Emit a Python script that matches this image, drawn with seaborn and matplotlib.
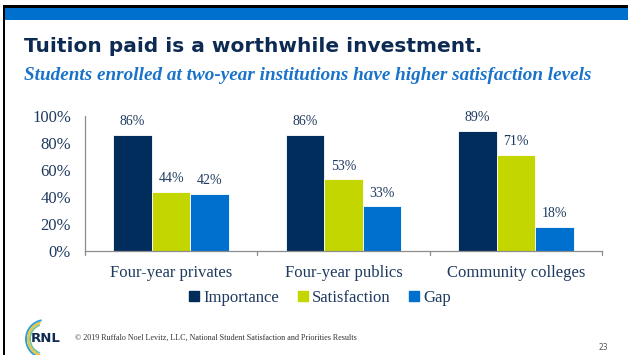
import matplotlib
matplotlib.use("Agg")
import matplotlib.pyplot as plt
from matplotlib.patches import Rectangle, Arc
import seaborn as sns
import pandas as pd

# Chart data
categories = ["Four-year privates", "Four-year publics", "Community colleges"]
series = ["Importance", "Satisfaction", "Gap"]
importance = [86, 86, 89]
satisfaction = [44, 53, 71]
gap = [42, 33, 18]
y_ticks = [0, 20, 40, 60, 80, 100]
y_tick_labels = ["0%", "20%", "40%", "60%", "80%", "100%"]

colors = {"Importance": "#002D5B", "Satisfaction": "#C4D600", "Gap": "#0070CE"}
navy_text = "#1F3A5F"

rows = []
for s, vals in zip(series, [importance, satisfaction, gap]):
    for c, v in zip(categories, vals):
        rows.append({"Category": c, "Series": s, "Value": v})
df = pd.DataFrame(rows)

sns.set_theme(style="white")
plt.rcParams["font.family"] = ["Liberation Serif", "DejaVu Serif"]

W, H = 628, 355
fig = plt.figure(figsize=(W / 100, H / 100), dpi=100)
fig.patch.set_facecolor("white")
renderer = fig.canvas.get_renderer()


def fit_text(t, width_px):
    """Rescale a text so that it spans the given width in pixels."""
    w = t.get_window_extent(renderer=renderer).width
    t.set_fontsize(t.get_fontsize() * width_px / w)


# Slide decorations in pixel coordinates
deco = fig.add_axes([0, 0, 1, 1])
deco.set_xlim(0, W)
deco.set_ylim(H, 0)
deco.axis("off")
deco.add_patch(Rectangle((3, 5), W, 2.5, color="black", lw=0))
deco.add_patch(Rectangle((5, 8), W, 11.5, color="#0070CE", lw=0))
deco.add_patch(Rectangle((3, 5), 2.2, H, color="black", lw=0))

title = deco.text(24, 52, "Tuition paid is a worthwhile investment.", fontsize=15,
                  fontweight="bold", family=["DejaVu Sans"], color="#0D2B52",
                  va="baseline", ha="left")
fit_text(title, 458)
subtitle = deco.text(24, 80, "Students enrolled at two-year institutions have higher satisfaction levels",
                     fontsize=12, fontweight="bold", fontstyle="italic", color="#1A73C8",
                     va="baseline", ha="left")
fit_text(subtitle, 566)

# Footer: logo, copyright, page number
for r, col, t1, t2 in [(19, "#2E9FD8", 100, 260), (17, "#F2C230", 105, 255), (15, "#7CC4A0", 110, 250)]:
    deco.add_patch(Arc((45, 339), 2 * r, 2 * r, theta1=t1, theta2=t2, color=col, lw=1.4))
deco.text(46, 339, "RNL", fontsize=9.5, fontweight="bold", family=["DejaVu Sans"],
          color="#0D2B52", ha="center", va="center")
copyright_txt = deco.text(75, 340,
                          "\u00a9 2019 Ruffalo Noel Levitz, LLC, National Student Satisfaction and Priorities Results",
                          fontsize=5.5, color="#333333", ha="left", va="baseline")
fit_text(copyright_txt, 284)
deco.text(603, 347, "23", fontsize=5.5, color="#555555", family=["DejaVu Sans"],
          ha="center", va="center")

# Bar chart
ax = fig.add_axes([85 / W, 1 - 251 / H, (602 - 85) / W, (251 - 116) / H])
sns.barplot(data=df, x="Category", y="Value", hue="Series", hue_order=series,
            order=categories, palette=colors, saturation=1, width=0.67, gap=0,
            edgecolor="white", linewidth=0.6, ax=ax, legend=False)
ax.set_facecolor("none")
ax.set_ylim(0, 100)
ax.set_xlim(-0.5, 2.5)
ax.set_yticks(y_ticks)
ax.set_yticklabels(y_tick_labels, fontsize=12, color=navy_text)
ax.set_xticks([0, 1, 2])
ax.set_xticklabels(categories, fontsize=12, color=navy_text)
ax.set_xlabel("")
ax.set_ylabel("")
for side in ["top", "right"]:
    ax.spines[side].set_visible(False)
for side in ["left", "bottom"]:
    ax.spines[side].set_color("#8C8C8C")
    ax.spines[side].set_linewidth(0.9)
ax.tick_params(axis="y", length=4, width=0.9, color="#8C8C8C", pad=6)
ax.tick_params(axis="x", length=0, pad=10)
# Category separator ticks on the x axis
for xb in [-0.5, 0.5, 1.5, 2.5]:
    ax.plot([xb, xb], [0, -3], color="#8C8C8C", lw=0.9, clip_on=False)

for container in ax.containers:
    ax.bar_label(container, labels=[f"{v:.0f}%" for v in container.datavalues],
                 padding=5, fontsize=10, color=navy_text)

# Legend
handles = [Rectangle((0, 0), 1, 1, color=colors[s]) for s in series]
leg = fig.legend(handles, series, loc="center", bbox_to_anchor=(320 / W, 1 - 298 / H),
                 ncol=3, frameon=False, fontsize=12,
                 handlelength=0.6, handleheight=0.6,
                 handletextpad=0.25, columnspacing=1.1)
for t in leg.get_texts():
    t.set_fontfamily(["Liberation Serif"])
    t.set_color(navy_text)

fig.savefig("out.png", dpi=100, facecolor="white")
